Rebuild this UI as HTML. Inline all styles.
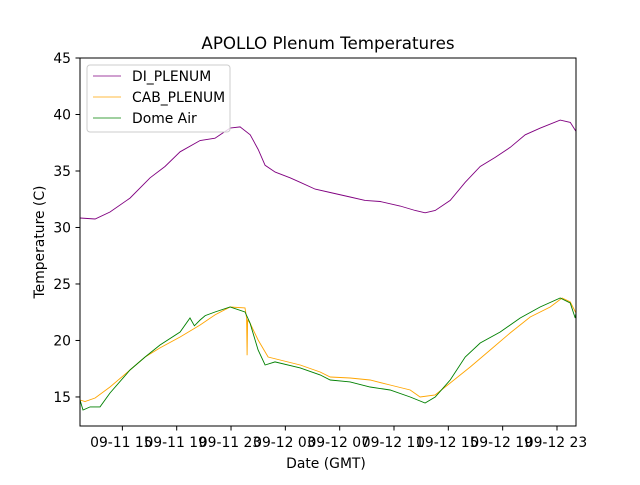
<!DOCTYPE html>
<html><head><meta charset="utf-8"><style>
body{margin:0;background:#fff}
svg text{font-family:"DejaVu Sans","Liberation Sans",sans-serif;fill:#000}
</style></head><body>
<svg width="640" height="480" viewBox="0 0 640 480">
<rect width="640" height="480" fill="#fff"/>
<text x="328" y="49" font-size="16.7" text-anchor="middle">APOLLO Plenum Temperatures</text>
<g id="plot"></g>
<rect x="80" y="58" width="496" height="368" fill="none" stroke="#000" stroke-width="1"/>
<g id="axes"></g>
<text x="326" y="468" font-size="13.9" text-anchor="middle">Date (GMT)</text>
<text transform="translate(44,242) rotate(-90)" font-size="13.9" text-anchor="middle">Temperature (C)</text>
<g>
<rect x="87" y="65" width="143" height="67" rx="3" fill="#fff" fill-opacity="0.8" stroke="#ccc"/>
<line x1="93" y1="76" x2="121" y2="76" stroke="purple" stroke-width="0.8"/>
<text x="132" y="81" font-size="13.9">DI_PLENUM</text>
<line x1="93" y1="97" x2="121" y2="97" stroke="orange" stroke-width="0.8"/>
<text x="132" y="102" font-size="13.9">CAB_PLENUM</text>
<line x1="93" y1="118" x2="121" y2="118" stroke="green" stroke-width="0.8"/>
<text x="132" y="123" font-size="13.9">Dome Air</text>
</g>
</svg>
<script>
const diTimes=[11.88,12.99,14.09,15.56,17.04,18.14,19.25,20.72,21.82,22.93,23.67,24.41,25.0,25.51,26.25,27.35,28.09,29.19,30.3,31.77,32.87,33.98,35.45,36.56,37.29,38.03,39.14,40.24,41.35,42.45,43.56,44.66,45.77,47.24,47.98,48.4];
const diValues=[30.84,30.75,31.37,32.6,34.4,35.4,36.7,37.7,37.9,38.8,38.9,38.2,36.9,35.5,34.9,34.4,34.0,33.4,33.1,32.7,32.4,32.3,31.9,31.5,31.3,31.5,32.4,34.0,35.4,36.2,37.1,38.2,38.8,39.5,39.3,38.5];
const cabTimes=[11.88,12.25,12.99,14.09,15.56,16.67,17.77,19.25,20.72,21.82,22.93,24.03,24.15,24.18,24.22,24.40,24.99,25.73,26.61,28.09,29.56,30.30,31.77,33.24,34.71,36.19,36.92,38.03,39.14,40.61,42.08,43.55,45.03,46.50,47.38,47.97,48.4];
const cabValues=[14.73,14.6,14.91,15.88,17.39,18.54,19.34,20.31,21.37,22.26,22.96,22.88,22.0,18.7,21.8,21.55,20.04,18.54,18.27,17.83,17.21,16.77,16.68,16.50,16.06,15.62,15.0,15.18,16.24,17.65,19.16,20.66,22.08,22.96,23.76,23.41,22.43];
const domeTimes=[11.88,12.10,12.62,13.35,14.09,15.56,16.67,17.77,19.25,19.98,20.3,20.72,21.1,21.82,22.93,24.03,24.40,24.99,25.51,26.24,28.09,29.56,30.30,31.77,33.24,34.71,36.19,37.29,38.03,39.14,40.24,41.35,42.82,44.29,45.76,47.24,47.97,48.34,48.4];
const domeValues=[14.73,13.85,14.12,14.12,15.35,17.39,18.54,19.6,20.75,21.99,21.3,21.81,22.2,22.52,22.96,22.52,21.55,19.16,17.83,18.1,17.57,16.95,16.50,16.33,15.88,15.62,15.0,14.47,15.0,16.50,18.54,19.78,20.75,21.99,22.96,23.76,23.32,21.99,22.43];
const xTickHours=[15,19,23,27,31,35,39,43,47];
const xTickLabels=["09-11 15","09-11 19","09-11 23","09-12 03","09-12 07","09-12 11","09-12 15","09-12 19","09-12 23"];
const yTicks=[15,20,25,30,35,40,45];

const X0=80,X1=576,Y0=426,Y1=58,H0=11.88,H1=48.4,V0=12.43,V1=45;
function xs(h){return X0+(h-H0)/(H1-H0)*(X1-X0);}
function ys(v){return Y0-(v-V0)/(V1-V0)*(Y0-Y1);}
const NS="http://www.w3.org/2000/svg";
const plot=document.getElementById('plot'),axes=document.getElementById('axes');
function line(t,v,color,name){
  const p=document.createElementNS(NS,'polyline');
  p.setAttribute('points',t.map((h,i)=>xs(h).toFixed(1)+','+ys(v[i]).toFixed(1)).join(' '));
  p.setAttribute('fill','none');p.setAttribute('stroke',color);p.setAttribute('stroke-width','0.9');
  
  
  plot.appendChild(p);
}
line(diTimes,diValues,'purple','di-plenum-line');
line(cabTimes,cabValues,'orange','cab-plenum-line');
line(domeTimes,domeValues,'green','dome-air-line');
xTickHours.forEach((h,i)=>{
  const x=xs(h);
  const l=document.createElementNS(NS,'line');
  l.setAttribute('x1',x);l.setAttribute('x2',x);l.setAttribute('y1',426);l.setAttribute('y2',430.5);l.setAttribute('stroke','#000');
  
  
  axes.appendChild(l);
  const t=document.createElementNS(NS,'text');
  t.setAttribute('x',x-1);t.setAttribute('y',447);t.setAttribute('font-size','13.9');t.setAttribute('text-anchor','middle');
  t.textContent=xTickLabels[i];
  
  
  axes.appendChild(t);
});
yTicks.forEach(v=>{
  const y=ys(v);
  const l=document.createElementNS(NS,'line');
  l.setAttribute('x1',75.5);l.setAttribute('x2',80);l.setAttribute('y1',y);l.setAttribute('y2',y);l.setAttribute('stroke','#000');
  
  
  axes.appendChild(l);
  const t=document.createElementNS(NS,'text');
  t.setAttribute('x',71);t.setAttribute('y',y+5);t.setAttribute('font-size','13.9');t.setAttribute('text-anchor','end');
  t.textContent=v;
  
  
  axes.appendChild(t);
});
</script>
</body></html>
